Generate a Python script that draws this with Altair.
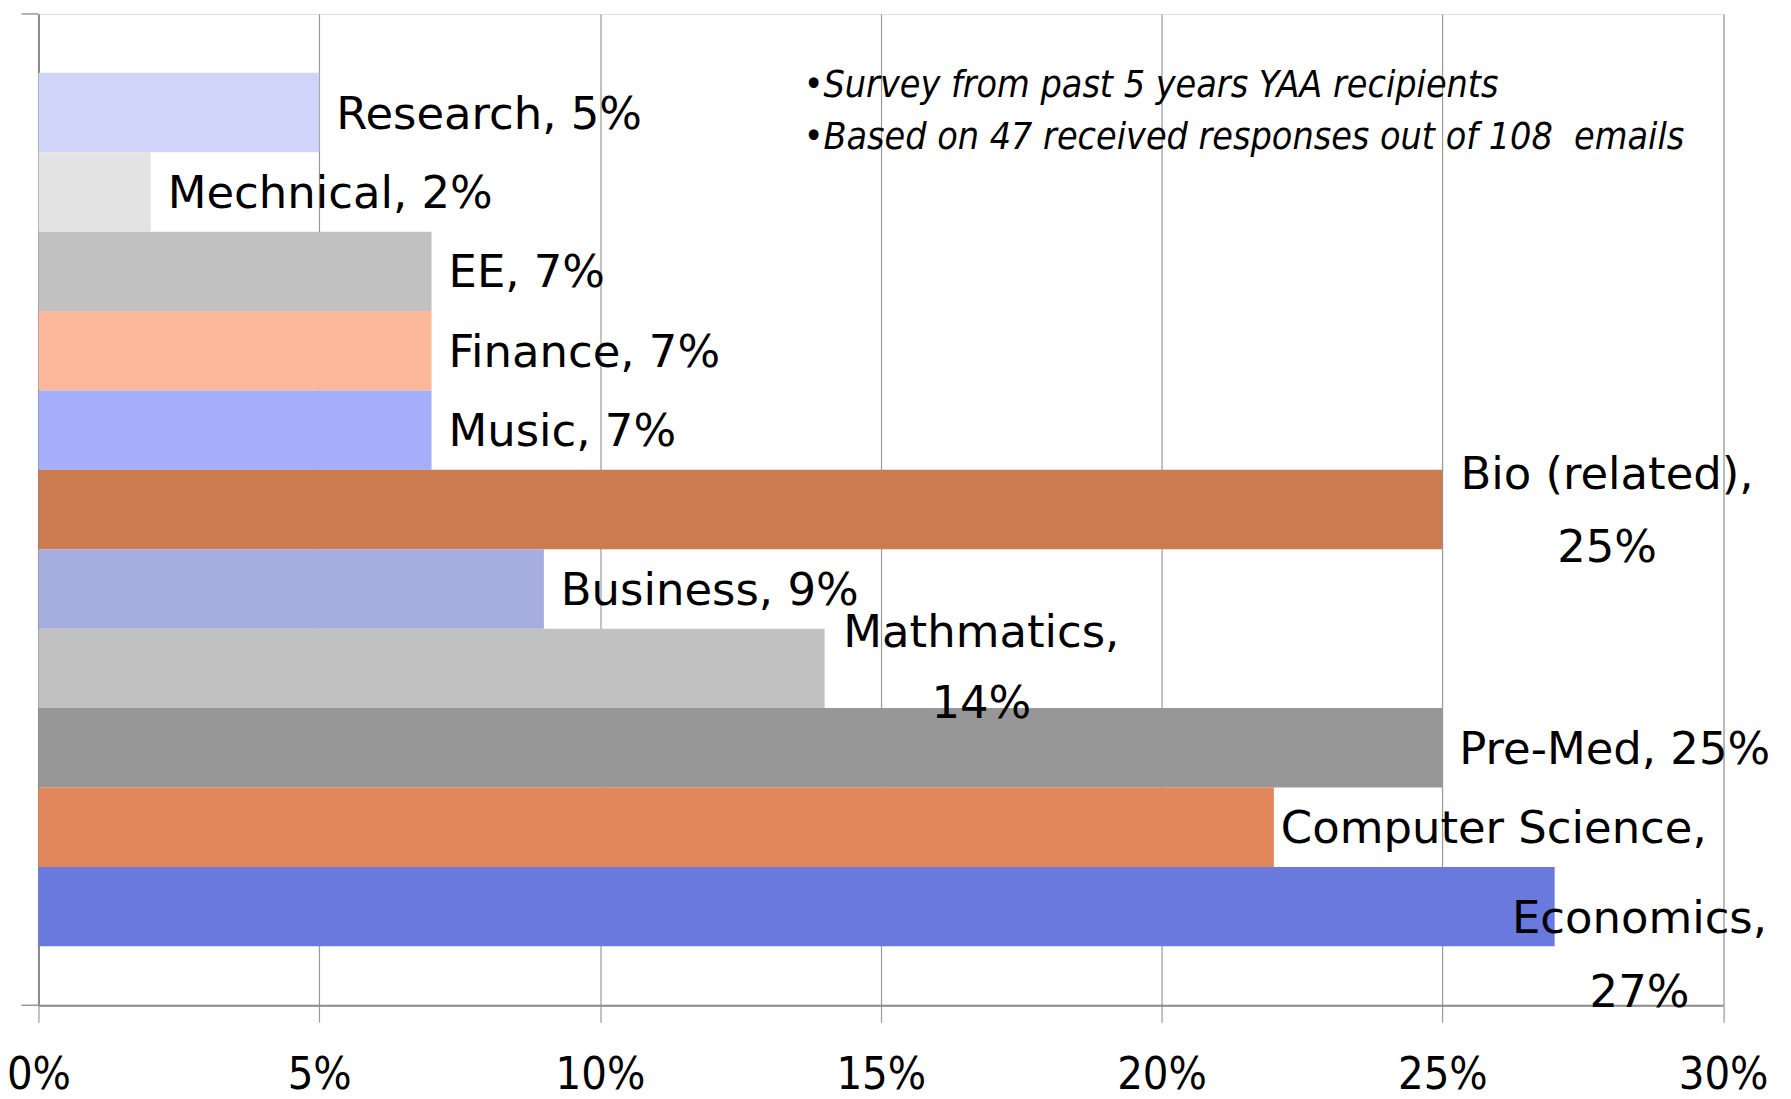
import altair as alt
import pandas as pd

# ---- data ----
categories = ["Research", "Mechnical", "EE", "Finance", "Music", "Bio (related)",
              "Business", "Mathmatics", "Pre-Med", "Computer Science", "Economics"]
values = [5, 2, 7, 7, 7, 25, 9, 14, 25, 22, 27]
colors = ["#D0D4F8", "#E3E3E3", "#C1C1C1", "#FCB89B", "#A5AEFB", "#CC7A50",
          "#A6ADDF", "#C1C1C1", "#979797", "#E2865C", "#6A79DE"]
x_ticks = [0, 5, 10, 15, 20, 25, 30]
notes = ["•Survey from past 5 years YAA recipients",
         "•Based on 47 received responses out of 108\u00a0 emails"]

single_line = ["Research", "Mechnical", "EE", "Finance", "Music", "Business", "Pre-Med"]

df = pd.DataFrame({"cat": categories, "val": values, "color": colors})
df["label1"] = df["cat"] + ", " + df["val"].astype(str) + "%"
df["label2"] = df["cat"] + ",\n" + df["val"].astype(str) + "%"

W, H = 1687.5, 993
LABEL_FONT = "DejaVu Sans"
LABEL_SIZE = 45
LH = 73
TICK_FONT = "'DejaVu Sans Condensed', 'DejaVu Sans'"
NOTE_FONT = "'DejaVu Sans Condensed', 'DejaVu Sans'"
GRID = "#999999"

x_enc = alt.X("val:Q", scale=alt.Scale(domain=[0, 30], nice=False, zero=True),
              axis=alt.Axis(values=x_ticks, labelExpr="datum.value + '%'", title=None,
                            grid=True, gridColor=GRID, gridWidth=1.2,
                            tickSize=17, tickColor=GRID, tickWidth=1.2,
                            domainColor="#8a8a8a", domainWidth=2,
                            labelFont=TICK_FONT, labelFontSize=45, labelColor="black",
                            labelPadding=30, labelFlush=False, labelOverlap=False))
y_enc = alt.Y("cat:N", sort=categories,
              scale=alt.Scale(paddingInner=0, paddingOuter=0.742),
              axis=alt.Axis(labels=False, ticks=False, title=None, grid=False,
                            domainColor="#8a8a8a", domainWidth=2))

base = alt.Chart(df)
y_pos = alt.Y("cat:N", sort=categories)

bars = base.mark_bar(strokeWidth=0).encode(
    x=x_enc, y=y_enc,
    color=alt.Color("color:N", scale=None, legend=None),
)

# Computer Science label: its second line falls behind the Economics bar (drawn before bars)
cs_label = base.transform_filter(alt.datum.cat == "Computer Science").mark_text(
    align="left", baseline="middle", dx=7, dy=2, lineBreak="\n", lineHeight=LH,
    font=LABEL_FONT, fontSize=LABEL_SIZE, color="black",
).encode(x="val:Q", y=y_pos, text="label2:N")

single = base.transform_filter(alt.FieldOneOfPredicate(field="cat", oneOf=single_line)).mark_text(
    align="left", baseline="middle", dx=17, dy=2,
    font=LABEL_FONT, fontSize=LABEL_SIZE, color="black",
).encode(x="val:Q", y=y_pos, text="label1:N")

bio = base.transform_filter(alt.datum.cat == "Bio (related)").mark_text(
    align="center", baseline="middle", dx=165, dy=2 - LH / 2, lineBreak="\n", lineHeight=LH,
    font=LABEL_FONT, fontSize=LABEL_SIZE, color="black",
).encode(x="val:Q", y=y_pos, text="label2:N")

math = base.transform_filter(alt.datum.cat == "Mathmatics").mark_text(
    align="center", baseline="middle", dx=157, dy=1 - LH / 2, lineBreak="\n", lineHeight=71,
    font=LABEL_FONT, fontSize=LABEL_SIZE, color="black",
).encode(x="val:Q", y=y_pos, text="label2:N")

econ = base.transform_filter(alt.datum.cat == "Economics").mark_text(
    align="center", baseline="middle", dx=85, dy=12, lineBreak="\n", lineHeight=75,
    font=LABEL_FONT, fontSize=LABEL_SIZE, color="black",
).encode(x="val:Q", y=y_pos, text="label2:N")

one = alt.Chart(pd.DataFrame({"k": [0]}))
top_tick = one.mark_rule(color=GRID, strokeWidth=1.5).encode(
    x=alt.value(-17), x2=alt.value(0), y=alt.value(0))
bottom_tick = one.mark_rule(color=GRID, strokeWidth=1.5).encode(
    x=alt.value(-17), x2=alt.value(0), y=alt.value(H))

note = one.mark_text(
    align="left", baseline="middle", lineBreak="\n", lineHeight=52,
    font=NOTE_FONT, fontSize=37.4, fontStyle="italic", color="black",
).encode(x=alt.value(766.5), y=alt.value(72), text=alt.value("\n".join(notes)))

chart = alt.layer(
    cs_label, bars, single, bio, math, econ, top_tick, bottom_tick, note
).properties(
    width=W, height=H,
    autosize=alt.AutoSizeParams(type="none"),
    padding={"left": 30.5, "top": 5, "right": 60, "bottom": 93},
).configure_view(stroke=None).configure(background="white")

chart.save("out.html", embed_options={"renderer": "svg", "actions": False})
